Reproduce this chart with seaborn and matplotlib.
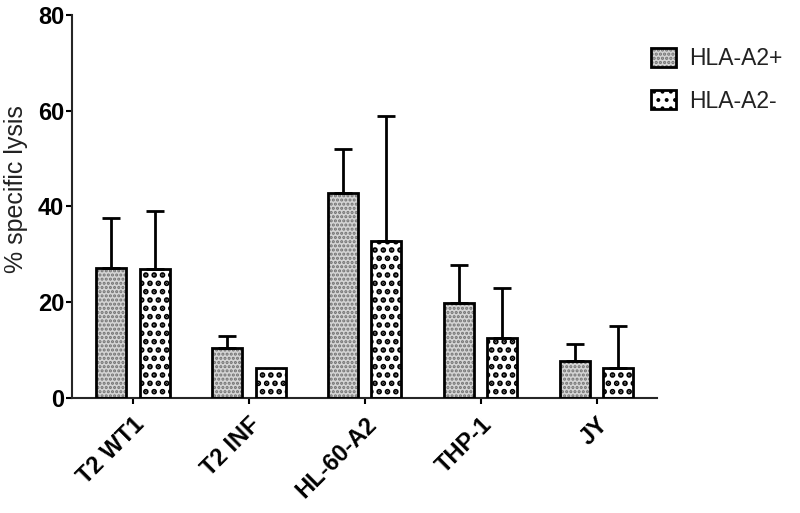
import matplotlib
matplotlib.use("Agg")
import matplotlib.pyplot as plt
from matplotlib.patches import Patch, Rectangle
from matplotlib.legend_handler import HandlerTuple
import seaborn as sns
import pandas as pd
import numpy as np

categories = ["T2 WT1", "T2 INF", "HL-60-A2", "THP-1", "JY"]
groups = ["HLA-A2+", "HLA-A2-"]
a2pos = [27.1, 10.4, 42.9, 19.9, 7.8]
a2pos_err = [10.5, 2.6, 9.0, 7.9, 3.4]
a2neg = [26.9, 6.3, 32.7, 12.6, 6.3]
a2neg_err = [12.2, 0.0, 26.2, 10.3, 8.8]
yticks = [0, 20, 40, 60, 80]

df = pd.DataFrame({
    "cell": categories * 2,
    "group": [groups[0]] * 5 + [groups[1]] * 5,
    "lysis": a2pos + a2neg,
})
errs = {groups[0]: a2pos_err, groups[1]: a2neg_err}

sns.set_theme(style="ticks")
plt.rcParams["font.family"] = ["Liberation Sans", "DejaVu Sans"]
plt.rcParams["hatch.linewidth"] = 1.6

fig = plt.figure(figsize=(8, 5.13), dpi=100)
ax = fig.add_axes([0.09, 0.224, 0.731, 0.747])

styles = {
    groups[0]: dict(face="#d4d4d4", hatch="....", hcolor="#707070", hlw=1.5),
    groups[1]: dict(face="white", hatch="..", hcolor="black", hlw=2.8),
}


def set_hlw(p, lw):
    try:
        p.set_hatch_linewidth(lw)
    except AttributeError:
        p._hatch_linewidth = lw


sns.barplot(data=df, x="cell", y="lysis", hue="group", order=categories,
            hue_order=groups, width=0.75, gap=0.31, ax=ax, legend=False,
            palette=["#d4d4d4", "white"], err_kws={"linewidth": 0})

for cont, g in zip(ax.containers, groups):
    st = styles[g]
    xs, ys = [], []
    for bar in cont:
        bar.set_facecolor(st["face"])
        bar.set_edgecolor(st["hcolor"])
        bar.set_hatch(st["hatch"])
        set_hlw(bar, st["hlw"])
        bar.set_linewidth(0)
        ax.add_patch(Rectangle((bar.get_x(), bar.get_y()), bar.get_width(), bar.get_height(),
                               fill=False, edgecolor="black", linewidth=2.0, zorder=3))
        xs.append(bar.get_x() + bar.get_width() / 2)
        ys.append(bar.get_height())
    e = np.array(errs[g])
    mask = e > 0
    ax.errorbar(np.array(xs)[mask], np.array(ys)[mask],
                yerr=[np.zeros(mask.sum()), e[mask]], fmt="none",
                ecolor="black", elinewidth=2.0, capsize=6.2, capthick=2.0, zorder=2)

ax.set_xlim(-0.525, 4.52)
ax.set_ylim(0, 80)
ax.set_yticks(yticks)
ax.set_yticklabels([str(v) for v in yticks], fontsize=17, fontweight="bold")
ax.set_xticks(range(len(categories)))
ax.set_xticklabels(categories, fontsize=17, fontweight="bold", rotation=45,
                   ha="right", rotation_mode="anchor")
ax.set_xlabel("")
ax.set_ylabel("% specific lysis", fontsize=18, color="#222222")
ax.yaxis.set_label_coords(-0.075, 0.545)
for s in ["top", "right"]:
    ax.spines[s].set_visible(False)
for s in ["left", "bottom"]:
    ax.spines[s].set_linewidth(1.5)
ax.tick_params(axis="both", length=4.5, width=1.5, color="black", labelcolor="black")
ax.tick_params(axis="x", pad=6)
ax.tick_params(axis="y", pad=1)

handles = []
for g in groups:
    st = styles[g]
    h1 = Patch(facecolor=st["face"], edgecolor=st["hcolor"], hatch=st["hatch"], linewidth=0)
    set_hlw(h1, st["hlw"])
    h2 = Patch(facecolor="none", edgecolor="black", linewidth=2.0)
    handles.append((h1, h2))
leg = fig.legend(handles, groups, loc="upper left", bbox_to_anchor=(0.8, 0.93),
                 frameon=False, fontsize=16.5, handlelength=1.05, handleheight=0.9,
                 labelspacing=0.85, handletextpad=0.6, borderpad=0,
                 handler_map={tuple: HandlerTuple(ndivide=1, pad=0)})
for t in leg.get_texts():
    t.set_color("#222222")

fig.savefig("out.png", dpi=100)
